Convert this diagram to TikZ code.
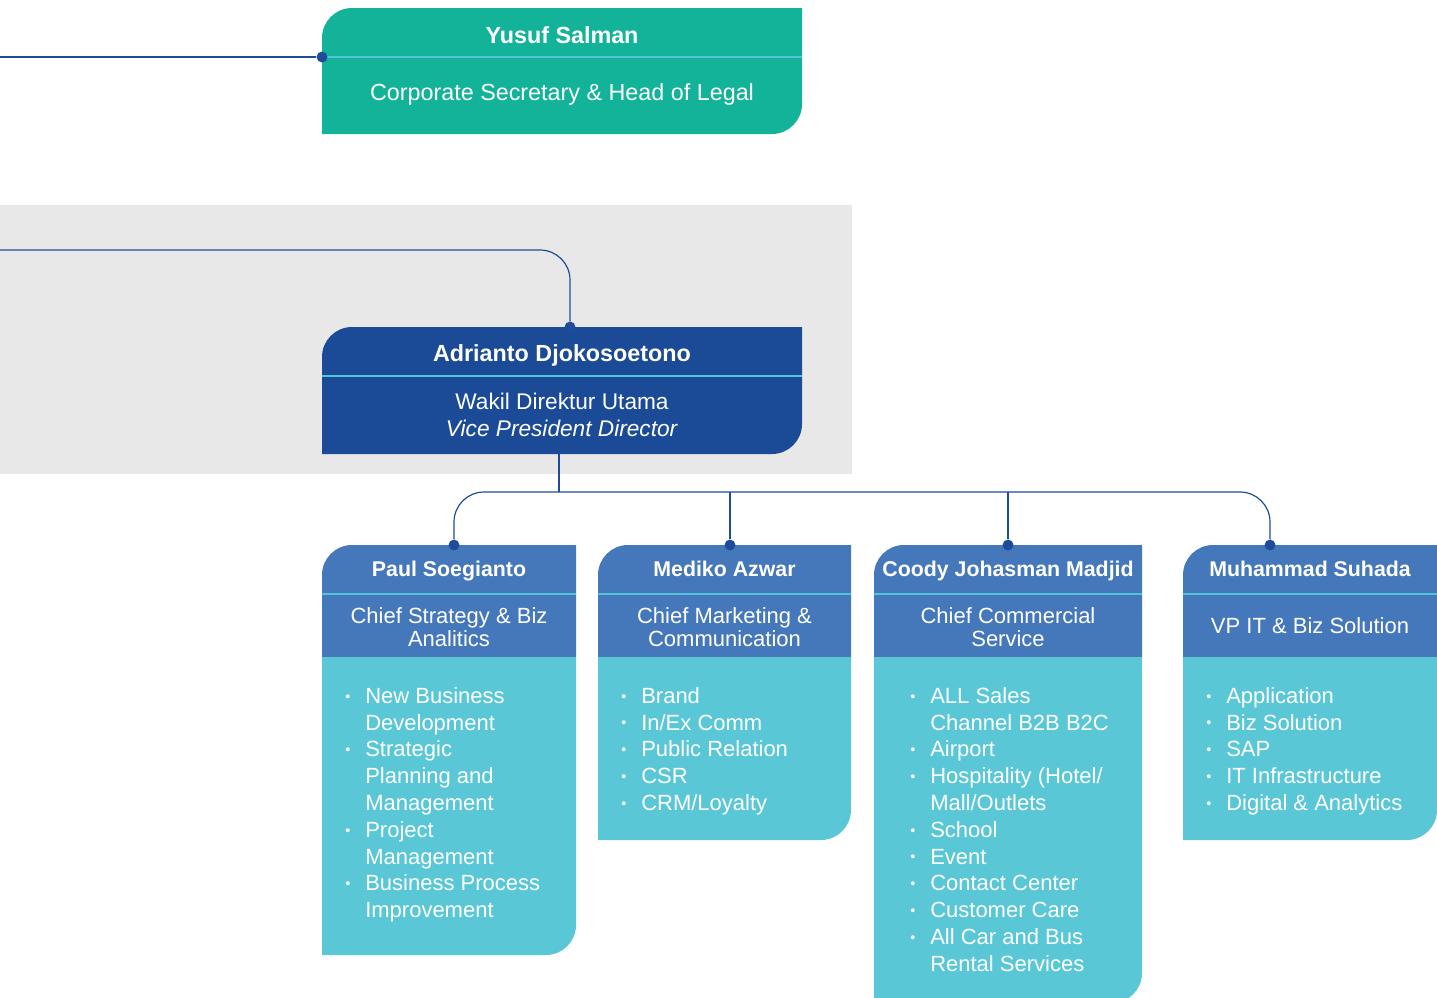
\documentclass[tikz,border=0pt]{standalone}
\usepackage{fontspec}
\setmainfont{Liberation Sans}
\usetikzlibrary{positioning}
\definecolor{legalgreen}{HTML}{12B398}
\definecolor{vpblue}{HTML}{1B4A96}
\definecolor{headblue}{HTML}{4577BB}
\definecolor{bodycyan}{HTML}{5AC7D7}
\definecolor{rulecyan}{HTML}{52C4DA}
\definecolor{linkblue}{HTML}{1E4C9A}
\definecolor{bandgray}{HTML}{E8E8E8}
\newcommand{\itm}{\makebox[15pt][l]{\raisebox{1.6pt}{\scalebox{0.65}{\textbullet}}}}
\newcommand{\cnt}{\hspace*{15pt}}
\tikzset{
  personname/.style={text=white, font=\fontsize{16}{19}\selectfont\bfseries, inner sep=0pt,
    anchor=base},
  topname/.style={personname, font=\fontsize{17.5}{20}\selectfont\bfseries},
  personrole/.style={text=white, font=\fontsize{16.5}{17.3}\selectfont, align=center, inner sep=0pt},
  dutylist/.style={text=white, font=\fontsize{16.5}{20.1}\selectfont, align=left,
    anchor=north west, inner sep=0pt},
  linkline/.style={draw=linkblue, line width=0.9pt},
  joint/.style={circle, fill=linkblue, inner sep=0pt, minimum size=8.2pt},
  divider/.style={draw=rulecyan, line width=1.1pt},
}
\begin{document}
\begin{tikzpicture}[x=0.75pt, y=0.75pt]
  \useasboundingbox (0,0) rectangle (1437,-997);
  \fill[bandgray] (0,-205) rectangle (852,-474);

  % corporate secretary
  \fill[legalgreen] (322,-134) -- (322,-38) arc[start angle=180, end angle=90, radius=22.5pt]
    -- (802,-8) -- (802,-104) arc[start angle=0, end angle=-90, radius=22.5pt] -- cycle;
  \draw[divider] (322,-57) -- (802,-57);
  \node[topname] (yusuf-name) at (562,-43) {Yusuf Salman};
  \node[personrole, font=\fontsize{17.5}{20}\selectfont, anchor=base] (yusuf-role) at (562,-100.5)
    {Corporate Secretary \& Head of Legal};
  \node[joint] (yusuf-in) at (322,-57) {};

  % vice president director
  \fill[vpblue] (322,-454) -- (322,-357) arc[start angle=180, end angle=90, radius=22.5pt]
    -- (802,-327) -- (802,-424) arc[start angle=0, end angle=-90, radius=22.5pt] -- cycle;
  \draw[divider] (322,-376) -- (802,-376);
  \node[topname] (adrianto-name) at (562,-361.5) {Adrianto Djokosoetono};
  \node[personrole, font=\fontsize{17}{20.3}\selectfont] (adrianto-role) at (562,-414.5)
    {Wakil Direktur Utama\\\textit{Vice President Director}};
  \node[joint] (adrianto-in) at (570,-327) {};
  \coordinate (adrianto-out) at (559,-454);

  % direct reports
  \foreach \key/\lx/\rx/\by/\dx in {paul/322/576/955/454, mediko/598/851/840/730,
      coody/874/1142/1003/1008, muhammad/1183/1437/840/1270} {
    \fill[headblue] (\lx,-657) -- (\lx,-575) arc[start angle=180, end angle=90, radius=22.5pt]
      -- (\rx,-545) -- (\rx,-657) -- cycle;
    \fill[bodycyan] (\lx,-657) -- (\lx,-\by) -- ({\rx-30},-\by)
      arc[start angle=-90, end angle=0, radius=22.5pt] -- (\rx,-657) -- cycle;
    \draw[divider] (\lx,-594) -- (\rx,-594);
    \node[joint] (\key-in) at (\dx,-545) {};
  }

  \node[personname] (paul-name) at (449,-576.5) {Paul Soegianto};
  \node[personrole] (paul-role) at (449,-627.5) {Chief Strategy \& Biz\\Analitics};
  \node[dutylist] (paul-duties) at (345,-687) {\itm New Business\\\cnt Development\\
    \itm Strategic\\\cnt Planning and\\\cnt Management\\\itm Project\\\cnt Management\\
    \itm Business Process\\\cnt Improvement};

  \node[personname] (mediko-name) at (724.5,-576.5) {Mediko Azwar};
  \node[personrole] (mediko-role) at (724.5,-627.5) {Chief Marketing \&\\Communication};
  \node[dutylist] (mediko-duties) at (621,-687) {\itm Brand\\\itm In/Ex Comm\\
    \itm Public Relation\\\itm CSR\\\itm CRM/Loyalty};

  \node[personname] (coody-name) at (1008,-576.5) {Coody Johasman Madjid};
  \node[personrole] (coody-role) at (1008,-627.5) {Chief Commercial\\Service};
  \node[dutylist] (coody-duties) at (910,-687) {\itm ALL Sales\\\cnt Channel B2B B2C\\
    \itm Airport\\\itm Hospitality (Hotel/\\\cnt Mall/Outlets\\\itm School\\\itm Event\\
    \itm Contact Center\\\itm Customer Care\\\itm All Car and Bus\\\cnt Rental Services};

  \node[personname] (muhammad-name) at (1310,-576.5) {Muhammad Suhada};
  \node[personrole] (muhammad-role) at (1310,-626) {VP IT \& Biz Solution};
  \node[dutylist] (muhammad-duties) at (1206,-687) {\itm Application\\\itm Biz Solution\\
    \itm SAP\\\itm IT Infrastructure\\\itm Digital \& Analytics};

  % reporting lines
  \coordinate (edge-a) at (0,-57);
  \coordinate (edge-b) at (0,-250);
  \coordinate (bus) at (559,-492);
  \draw[linkline] (edge-a) -- (yusuf-in);
  \draw[linkline, rounded corners=22.5pt] (edge-b) -| (adrianto-in);
  \draw[linkline] (adrianto-out) -- (bus);
  \draw[linkline, rounded corners=22.5pt] (paul-in) |- (bus) -| (muhammad-in);
  \draw[linkline] (mediko-in) -- (mediko-in |- bus);
  \draw[linkline] (coody-in) -- (coody-in |- bus);
\end{tikzpicture}
\end{document}
